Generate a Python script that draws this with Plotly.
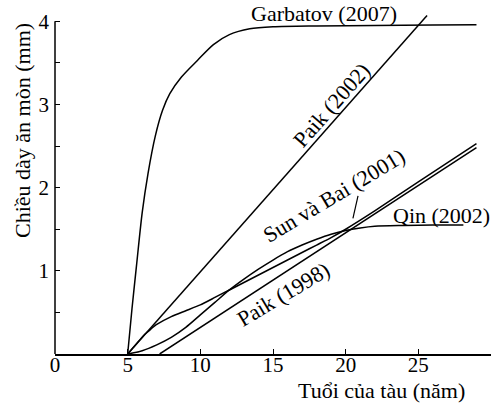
import plotly.graph_objects as go

# ---- data ----
garbatov_x = [5, 5.3, 5.6, 6.0, 6.4, 6.9, 7.4, 7.9, 8.7, 9.8, 10.9, 12, 13.4, 15, 18, 22, 26, 29]
garbatov_y = [0, 0.55, 1.05, 1.7, 2.17, 2.62, 2.93, 3.13, 3.33, 3.53, 3.72, 3.84, 3.91, 3.935, 3.945, 3.95, 3.955, 3.96]

paik2002_x = [5, 25.6]
paik2002_y = [0, 4.07]

sunbai_x = [5, 6.2, 6.6, 7.0, 8, 9, 10, 11, 12, 13, 14, 15, 16, 17, 18, 19, 20, 22, 25, 29]
sunbai_y = [0, 0.24, 0.30, 0.355, 0.45, 0.52, 0.59, 0.68, 0.77, 0.86, 0.95, 1.04, 1.13, 1.22, 1.31, 1.40, 1.50, 1.72, 2.07, 2.53]

qin_x = [5, 6, 7, 8, 9, 10, 11, 12, 13, 14, 15, 16, 17, 18, 19, 20, 21, 22, 24, 26, 28.1]
qin_y = [0, 0.04, 0.11, 0.2, 0.32, 0.47, 0.62, 0.77, 0.9, 1.02, 1.13, 1.23, 1.31, 1.38, 1.44, 1.485, 1.515, 1.535, 1.545, 1.55, 1.55]

paik1998_x = [7.2, 29]
paik1998_y = [0, 2.48]

x_ticks = [0, 5, 10, 15, 20, 25, 30]
y_ticks = [0, 0.5, 1, 1.5, 2, 2.5, 3, 3.5, 4]
y_ticktext = ["", "", "1", "", "2", "", "3", "", "4"]

FONT = "Liberation Serif"
LINE = dict(color="black", width=1.5)

fig = go.Figure()
for xs, ys, shape, sm in [
    (garbatov_x, garbatov_y, "spline", 0.8),
    (paik2002_x, paik2002_y, "linear", None),
    (sunbai_x, sunbai_y, "spline", 0.5),
    (qin_x, qin_y, "spline", 0.8),
    (paik1998_x, paik1998_y, "linear", None),
]:
    ln = dict(**LINE, shape=shape)
    if sm is not None:
        ln["smoothing"] = sm
    fig.add_trace(go.Scatter(x=xs, y=ys, mode="lines", line=ln,
                             showlegend=False, hoverinfo="skip"))

ann_font = dict(family=FONT, size=22, color="black")
annotations = [
    dict(x=18.5, y=4.1, text="Garbatov (2007)", textangle=0),
    dict(x=19.0, y=2.99, text="Paik (2002)", textangle=-48.6),
    dict(x=19.2, y=1.90, text="Sun và Bai (2001)", textangle=-31),
    dict(x=15.7, y=0.71, text="Paik (1998)", textangle=-31),
    dict(x=26.6, y=1.66, text="Qin (2002)", textangle=0),
]
for a in annotations:
    fig.add_annotation(xref="x", yref="y", showarrow=False, font=ann_font,
                       xanchor="center", yanchor="middle", **a)

# axis titles
fig.add_annotation(xref="paper", yref="paper", x=(381 - 55) / 436, y=-(391 - 354) / 341,
                   text="Tuổi của tàu (năm)", showarrow=False, font=ann_font,
                   xanchor="center", yanchor="middle")
fig.add_annotation(xref="paper", yref="paper", x=-(55 - 22) / 436, y=(354 - 131) / 341,
                   text="Chiều dày ăn mòn (mm)", showarrow=False, font=ann_font,
                   textangle=-90, xanchor="center", yanchor="middle")

# leader line for Sun và Bai label
fig.add_shape(type="line", xref="x", yref="y", x0=20.85, y0=1.90, x1=20.5, y1=1.63,
              line=dict(color="black", width=1.2))
# y axis line (ends at 4)
fig.add_shape(type="line", xref="paper", yref="y", x0=0, x1=0, y0=0, y1=4,
              line=dict(color="black", width=1.5))

fig.update_layout(
    width=494, height=405,
    margin=dict(l=55, r=3, t=13, b=51),
    paper_bgcolor="white", plot_bgcolor="white",
    font=dict(family=FONT, size=21, color="black"),
    xaxis=dict(range=[0, 30], tickvals=x_ticks, ticks="inside", ticklen=5, tickwidth=1.2,
               tickcolor="black", showline=True, linecolor="black", linewidth=1.5,
               showgrid=False, zeroline=False, ticklabelstandoff=-9, automargin=False,
               tickfont=dict(family=FONT, size=21, color="black")),
    yaxis=dict(range=[0, 4.1], tickvals=y_ticks, ticktext=y_ticktext, ticks="inside",
               ticklen=5, tickwidth=1.2, tickcolor="black", showline=False,
               showgrid=False, zeroline=False, ticklabelstandoff=5, automargin=False,
               tickfont=dict(family=FONT, size=21, color="black")),
)

fig.write_html("out.html", config={"displayModeBar": False},
               post_script="document.body.style.margin='0';document.body.style.overflow='hidden';")
